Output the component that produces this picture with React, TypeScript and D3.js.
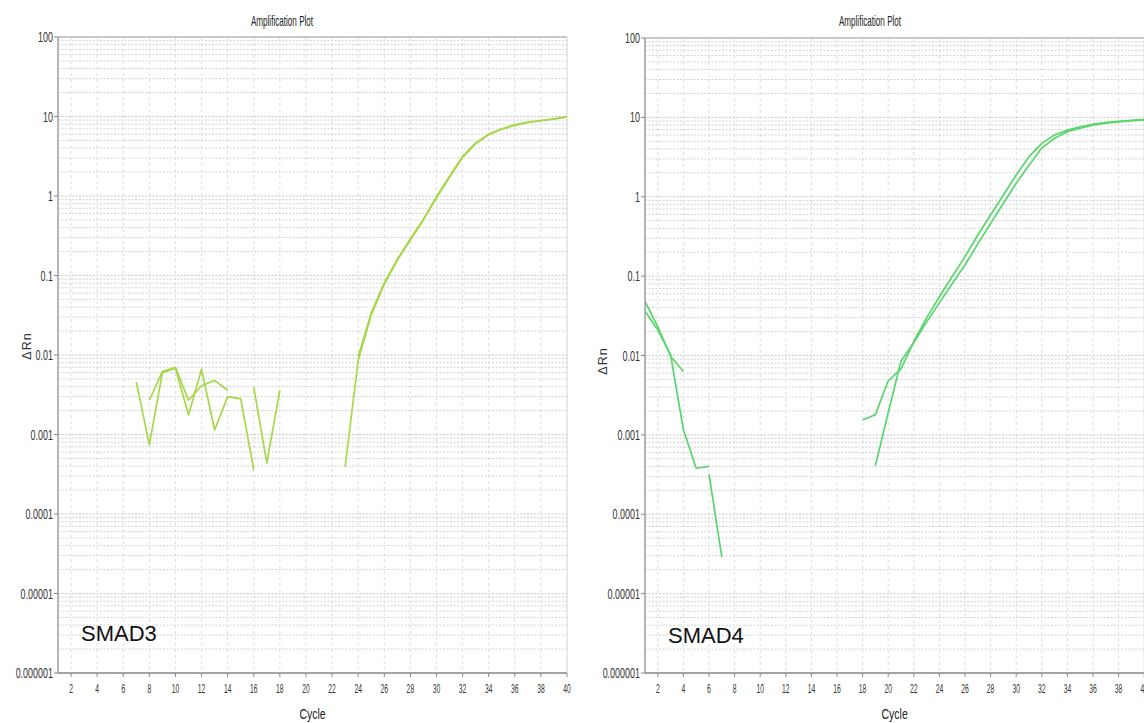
import * as d3 from "d3";

// cycles and axis ticks
const X_TICKS = d3.range(2, 41, 2);
const DECADES = [1e-6, 1e-5, 1e-4, 1e-3, 1e-2, 1e-1, 1, 10, 100];
const DECADE_LABELS = ["0.000001", "0.00001", "0.0001", "0.001", "0.01", "0.1", "1", "10", "100"];

// SMAD3 traces (first cycle + dRn per cycle, null = no value)
const SMAD3_A_START = 7;
const SMAD3_A = [0.0046, 0.00074, 0.006, 0.0068, 0.00176, 0.0066, 0.00114, 0.003, 0.0028, 0.00036];
const SMAD3_B_START = 8;
const SMAD3_B = [0.0027, 0.0062, 0.007, 0.0027, 0.0041, 0.0048, 0.0036, null, 0.0039, 0.00044, 0.0036];
const SMAD3_C_START = 23;
const SMAD3_C = [0.00039, 0.0085, 0.032, 0.078, 0.155, 0.28, 0.5, 0.95, 1.72, 3.05, 4.55, 5.9, 6.9, 7.75, 8.4, 8.85, 9.3, 9.85];
const SMAD3_D_START = 24;
const SMAD3_D = [0.0095, 0.034, 0.081, 0.16, 0.29, 0.51, 0.98, 1.78, 3.15, 4.65, 6.0, 7.0, 7.85, 8.5, 8.9, 9.35, 9.95];

// SMAD4 traces
const SMAD4_A_START = 1;
const SMAD4_A = [0.048, 0.023, 0.0098, 0.0063, null, 0.00032, 0.000029];
const SMAD4_B_START = 1;
const SMAD4_B = [0.036, 0.021, 0.0102, 0.00116, 0.00038, 0.0004];
const SMAD4_C_START = 18;
const SMAD4_C = [0.00154, 0.0018, 0.0048, 0.0068, 0.015, 0.0298, 0.055, 0.099, 0.176, 0.33, 0.59, 1.05, 1.88, 3.2, 4.7, 6.0, 6.9, 7.6, 8.2, 8.6, 8.9, 9.15, 9.35];
const SMAD4_D_START = 19;
const SMAD4_D = [0.00041, 0.0019, 0.0085, 0.0145, 0.0265, 0.046, 0.08, 0.138, 0.255, 0.46, 0.83, 1.48, 2.5, 4.1, 5.45, 6.6, 7.3, 7.95, 8.45, 8.8, 9.1, 9.3];

type Pt = [number, number | null];
const toPts = (start: number, vals: (number | null)[]): Pt[] => vals.map((v, i) => [start + i, v]);

const NARROW = "'Liberation Sans Narrow','Liberation Sans',Arial,sans-serif";

function Narrow({ x, y, sx, size, anchor = "middle", fill = "#333", children }: any) {
  return (
    <text
      transform={`translate(${x},${y}) scale(${sx},1)`}
      textAnchor={anchor}
      fontSize={size}
      fontFamily={NARROW}
      fill={fill}
    >
      {children}
    </text>
  );
}

function Panel({ p }: any) {
  const x = d3.scaleLinear().domain([1, 40]).range([p.left, p.right]);
  const y = d3.scaleLog().domain([1e-6, 100]).range([p.bottom, p.top]);
  const line = d3
    .line<Pt>()
    .defined((d) => d[1] != null)
    .x((d) => x(d[0]))
    .y((d) => y(d[1] as number));

  const minor: number[] = [];
  DECADES.slice(0, -1).forEach((d) => {
    for (let m = 2; m < 10; m++) minor.push(d * m);
  });

  return (
    <g>
      {/* grid */}
      {X_TICKS.filter((t) => t < 40).map((t) => (
        <line key={"v" + t} x1={x(t)} x2={x(t)} y1={p.top} y2={p.bottom} stroke="#dedede" strokeDasharray="3,3" />
      ))}
      {minor.map((v, i) => (
        <line key={"m" + i} x1={p.left} x2={p.right} y1={y(v)} y2={y(v)} stroke="#d2d2d2" strokeDasharray="2,1.5" />
      ))}
      {DECADES.map((v, i) => (
        <line key={"d" + i} x1={p.left} x2={p.right} y1={y(v)} y2={y(v)} stroke="#c8c8c8" strokeDasharray="2,1.5" />
      ))}
      <line x1={p.left} x2={p.right} y1={p.top} y2={p.top} stroke="#bdbdbd" strokeWidth={1.4} />
      <line x1={p.right} x2={p.right} y1={p.top} y2={p.bottom} stroke="#d0d0d0" />

      {/* traces */}
      {p.series.map((s: Pt[], i: number) => (
        <path key={"s" + i} d={line(s) || ""} fill="none" stroke={p.color} strokeWidth={1.7} strokeLinejoin="round" />
      ))}

      {/* axes */}
      <line x1={p.left} x2={p.left} y1={p.top} y2={p.bottom} stroke="#a4a4a4" strokeWidth={1.6} />
      <line x1={p.left} x2={p.right} y1={p.bottom} y2={p.bottom} stroke="#a4a4a4" strokeWidth={2} />
      {DECADES.map((v, i) => (
        <g key={"yt" + i}>
          <line x1={p.left - 4} x2={p.left} y1={y(v)} y2={y(v)} stroke="#888" />
          <Narrow x={p.left - 5} y={y(v) + 5} sx={0.64} size={14} anchor="end">
            {DECADE_LABELS[i]}
          </Narrow>
        </g>
      ))}
      {X_TICKS.map((t) => (
        <g key={"xt" + t}>
          <line x1={x(t)} x2={x(t)} y1={p.bottom} y2={p.bottom + 4} stroke="#888" />
          <Narrow x={x(t)} y={p.bottom + 20} sx={0.52} size={13}>
            {t}
          </Narrow>
        </g>
      ))}

      <Narrow x={p.titleX} y={26} sx={0.58} size={14} fill="#222">
        Amplification Plot
      </Narrow>
      <Narrow x={(p.left + p.right) / 2} y={719} sx={0.7} size={15} fill="#222">
        Cycle
      </Narrow>
      <text
        transform={`translate(${p.yLabelX},${p.yLabelY}) rotate(-90)`}
        textAnchor="middle"
        fontSize={12.5}
        letterSpacing={1}
        fontFamily="'Liberation Sans',Arial,sans-serif"
        fill="#333"
      >
        ΔRn
      </text>
      <text x={p.nameX} y={p.nameY} fontSize={22} fontFamily="'Liberation Sans',Arial,sans-serif" fill="#111">
        {p.name}
      </text>
    </g>
  );
}

const PANELS = [
  {
    left: 58,
    right: 567,
    top: 37,
    bottom: 673,
    titleX: 282,
    yLabelX: 31,
    yLabelY: 346,
    nameX: 81,
    nameY: 641,
    name: "SMAD3",
    color: "#a6d84a",
    series: [
      toPts(SMAD3_A_START, SMAD3_A),
      toPts(SMAD3_B_START, SMAD3_B),
      toPts(SMAD3_C_START, SMAD3_C),
      toPts(SMAD3_D_START, SMAD3_D),
    ],
  },
  {
    left: 645,
    right: 1144.2,
    top: 38,
    bottom: 673,
    titleX: 870,
    yLabelX: 607,
    yLabelY: 361,
    nameX: 668,
    nameY: 643,
    name: "SMAD4",
    color: "#58d66c",
    series: [
      toPts(SMAD4_A_START, SMAD4_A),
      toPts(SMAD4_B_START, SMAD4_B),
      toPts(SMAD4_C_START, SMAD4_C),
      toPts(SMAD4_D_START, SMAD4_D),
    ],
  },
];

export default function App() {
  return (
    <svg
      width={1144}
      height={723}
      style={{ position: "absolute", left: 0, top: 0, background: "#fff", display: "block" }}
    >
      {PANELS.map((p, i) => (
        <Panel key={i} p={p} />
      ))}
    </svg>
  );
}
